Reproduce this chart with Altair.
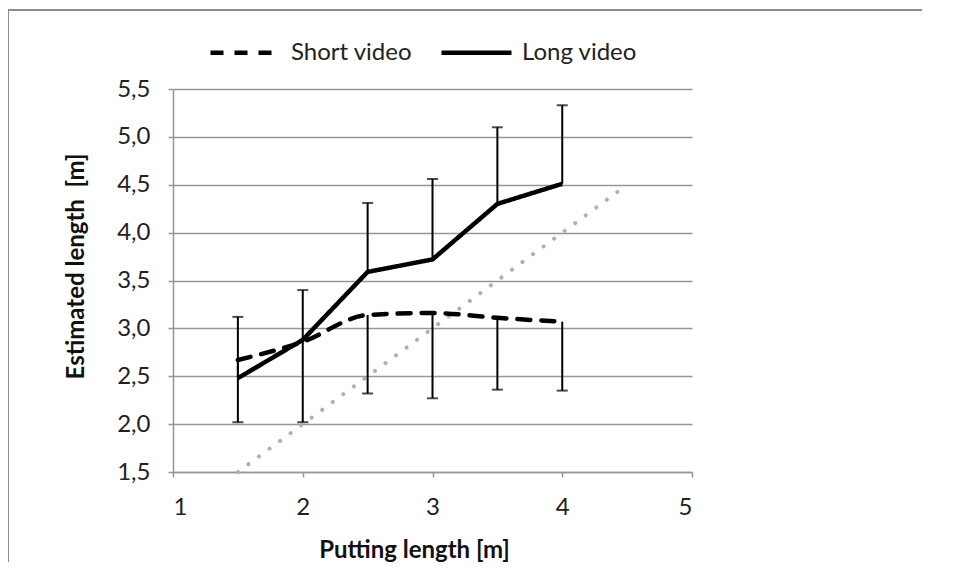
import altair as alt
import pandas as pd

# ---- data ----
putting = [1.5, 2.0, 2.5, 3.0, 3.5, 4.0]
short_mean = [2.67, 2.86, 3.14, 3.16, 3.11, 3.07]
short_low = [2.02, 2.02, 2.32, 2.27, 2.36, 2.35]
long_mean = [2.48, 2.88, 3.59, 3.72, 4.30, 4.51]
long_high = [3.12, 3.40, 4.31, 4.56, 5.10, 5.33]
ref_x = [1.5, 4.5]
ref_y = [1.5, 4.5]
series_names = ["Short video", "Long video"]
x_ticks = [1, 2, 3, 4, 5]
y_ticks = [1.5, 2.0, 2.5, 3.0, 3.5, 4.0, 4.5, 5.0, 5.5]

short_df = pd.DataFrame({"x": putting, "y": short_mean, "end": short_low, "series": series_names[0]})
long_df = pd.DataFrame({"x": putting, "y": long_mean, "end": long_high, "series": series_names[1]})
err_df = pd.concat([short_df, long_df], ignore_index=True)
ref_df = pd.DataFrame({"x": ref_x, "y": ref_y})

FONT = "Lato"
GRAY = "#969696"

xscale = alt.Scale(domain=[1, 5], nice=False, zero=False)
yscale = alt.Scale(domain=[1.5, 5.5], nice=False, zero=False)

xaxis = alt.Axis(values=x_ticks, grid=False, title="Putting length [m]", format="d",
                 labelFontSize=24, tickSize=5, labelPadding=18,
                 titleX=241, titleY=85, titleBaseline="alphabetic")
yaxis = alt.Axis(values=y_ticks, grid=True, title="Estimated length\u00a0\u00a0[m]",
                 labelFontSize=24, tickSize=5, labelPadding=18,
                 labelExpr="replace(format(datum.value, '.1f'), '.', ',')",
                 titleX=-90, titleY=177, titleBaseline="alphabetic")

dash_scale = alt.Scale(domain=series_names, range=[[13, 11], [1, 0]])
legend = alt.Legend(title=None, orient="none", legendX=35, legendY=-74,
                    direction="horizontal", symbolType="stroke", symbolSize=4900,
                    symbolStrokeWidth=4.5, symbolStrokeColor="black",
                    labelFont=FONT, labelFontSize=24, labelColor="#222222",
                    labelOffset=8, columnPadding=19)

frame_top = alt.Chart(ref_df).mark_rule(color="#8c8c8c", strokeWidth=2).encode(
    x=alt.value(-165), x2=alt.value(1000), y=alt.value(-79)
)
frame_left = alt.Chart(ref_df).mark_rule(color="#8c8c8c", strokeWidth=2).encode(
    x=alt.value(-165), y=alt.value(-79), y2=alt.value(700)
)

ref_line = alt.Chart(ref_df).mark_line(color="#b0b0b0", strokeWidth=4, strokeDash=[0.1, 13],
                                       strokeCap="round").encode(
    x=alt.X("x:Q", scale=xscale, axis=xaxis),
    y=alt.Y("y:Q", scale=yscale, axis=yaxis),
)

short_line = alt.Chart(short_df).mark_line(color="black", strokeWidth=4.5, strokeCap="round",
                                           interpolate="monotone").encode(
    x=alt.X("x:Q", scale=xscale, axis=xaxis),
    y=alt.Y("y:Q", scale=yscale, axis=yaxis),
    strokeDash=alt.StrokeDash("series:N", scale=dash_scale, legend=legend),
)

long_line = alt.Chart(long_df).mark_line(color="black", strokeWidth=4.5, strokeJoin="round").encode(
    x=alt.X("x:Q", scale=xscale, axis=xaxis),
    y=alt.Y("y:Q", scale=yscale, axis=yaxis),
    strokeDash=alt.StrokeDash("series:N", scale=dash_scale, legend=legend),
)

err_rule = alt.Chart(err_df).mark_rule(color="black", strokeWidth=2).encode(
    x=alt.X("x:Q", scale=xscale, axis=xaxis),
    y=alt.Y("y:Q", scale=yscale, axis=yaxis),
    y2="end:Q",
)

err_cap = alt.Chart(err_df).mark_tick(color="black", thickness=2, size=11, orient="horizontal").encode(
    x=alt.X("x:Q", scale=xscale, axis=xaxis),
    y=alt.Y("end:Q", scale=yscale, axis=yaxis),
)

chart = alt.layer(frame_top, frame_left, ref_line, err_rule, err_cap, short_line, long_line).properties(
    width=519, height=383,
    autosize=alt.AutoSizeParams(type="none"),
    padding={"left": 165, "top": 81, "right": 230, "bottom": 90},
).configure_view(stroke=None).configure_axis(
    labelFont=FONT, titleFont=FONT, labelColor="#222222", titleColor="#111111",
    titleFontSize=24, titleFontWeight="bold",
    gridColor=GRAY, gridWidth=1.5, domainColor=GRAY, domainWidth=1.5,
    tickColor=GRAY, tickWidth=1.5,
)

chart.save("out.html", embed_options={"renderer": "svg", "actions": False})
